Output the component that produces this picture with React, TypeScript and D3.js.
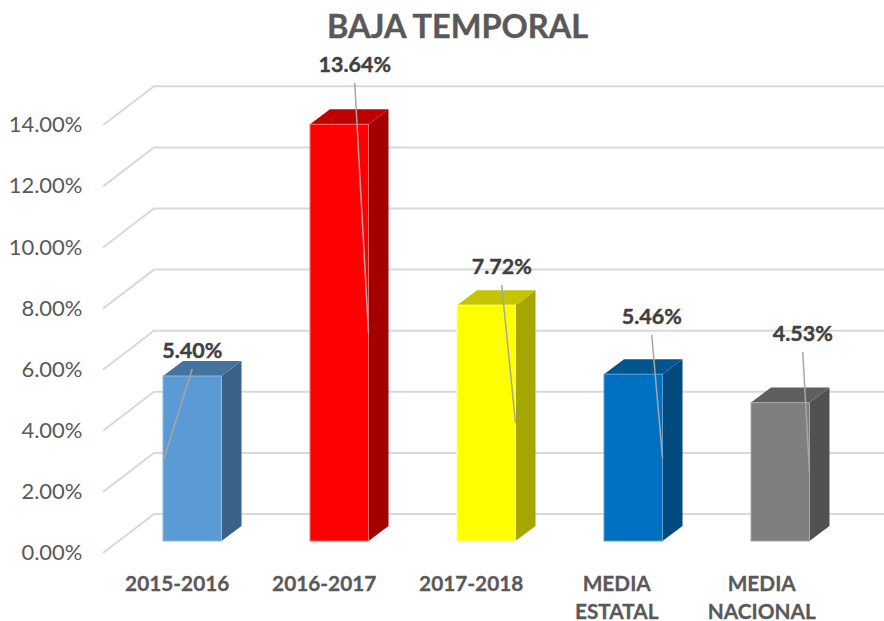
import React from "react";
import * as d3 from "d3";

const categories = ["2015-2016", "2016-2017", "2017-2018", "MEDIA|ESTATAL", "MEDIA|NACIONAL"];
const values = [5.4, 13.64, 7.72, 5.46, 4.53];
const tickValues = [0, 2, 4, 6, 8, 10, 12, 14];
const frontColors = ["#5B9BD5", "#FF0000", "#FFFF00", "#0070C0", "#7F7F7F"];
const topColors = ["#44739F", "#BF0000", "#C4C400", "#00558F", "#5F5F5F"];
const sideColors = ["#386287", "#A30000", "#A6A600", "#004A7F", "#515151"];
const edgeColors = ["#8DB9E2", "#FF6A6A", "#FFFF80", "#5A9FD6", "#A5A5A5"];
// label placement relative to the bar
const labelDx = [0, 15.5, 15.5, 18.5, 22.5];
const labelBaseline = [358, 72, 274, 324, 341];
const leaderFromRight = [false, true, true, true, true];
const categoryDx = [-15, -15, -15, -16.5, -18.5];

const font = "Lato, Carlito, Calibri, sans-serif";
const W = 884;
const H = 621;
const depthX = 20;
const depthY = 15;

export default function App() {
  const y = d3.scaleLinear().domain([0, 14]).range([541, 113.3]);
  const xs = d3.scalePoint<string>().domain(categories).range([163, 751]);
  const bw = 58.5;
  const gridLeft = 103;
  const gridMid = 154;
  return (
    <svg width={W} height={H} viewBox={`0 0 ${W} ${H}`} style={{ position: "absolute", left: 0, top: 0, background: "#fff", fontFamily: font }}>
      <text x={457.5} y={38} textAnchor="middle" fontSize={32.5} fontWeight={700} fill="#595959" stroke="#595959" strokeWidth={0.4}>BAJA TEMPORAL</text>
      {tickValues.map((t) => {
        const yf = y(t) + 12;
        const yb = y(t) - 27;
        return (
          <g key={t}>
            <polyline points={`${gridLeft},${yf} ${gridMid},${yb} ${W},${yb}`} fill="none" stroke="#D9D9D9" strokeWidth={2} />
            <text x={82.5} y={yf + 7} textAnchor="end" fontSize={22} fill="#595959">{t.toFixed(2)}%</text>
          </g>
        );
      })}
      {values.map((v, i) => {
        const x0 = xs(categories[i]) as number;
        const x1 = x0 + bw;
        const yt = y(v);
        const yb = y(0);
        return (
          <g key={categories[i]}>
            <path d={`M${x1},${yt} L${x1 + depthX},${yt - depthY} V${yb - depthY} L${x1},${yb} Z`} fill={sideColors[i]} />
            <path d={`M${x0},${yt} L${x0 + depthX},${yt - depthY} H${x1 + depthX} L${x1},${yt} Z`} fill={topColors[i]} />
            <rect x={x0} y={yt} width={bw} height={yb - yt} fill={frontColors[i]} stroke={edgeColors[i]} strokeWidth={1} />
          </g>
        );
      })}
      {values.map((v, i) => {
        const x0 = xs(categories[i]) as number;
        const cx = x0 + bw / 2 + labelDx[i];
        const base = labelBaseline[i];
        const ex = leaderFromRight[i] ? x0 + bw : x0 + 1;
        return (
          <g key={`l${i}`}>
            <line x1={cx} y1={base + 11} x2={ex} y2={y(v / 2)} stroke="#A6A6A6" strokeWidth={1.5} />
            <text x={cx} y={base} textAnchor="middle" fontSize={21.5} fontWeight={700} fill="#404040" stroke="#404040" strokeWidth={0.4}>{v.toFixed(2)}%</text>
          </g>
        );
      })}
      {categories.map((c, i) => {
        const lines = c.split("|");
        const cx = (xs(c) as number) + bw / 2 + categoryDx[i];
        return (
          <text key={c} textAnchor="middle" fontSize={20.8} fontWeight={700} fill="#595959" stroke="#595959" strokeWidth={0.3}>
            {lines.map((ln, j) => (
              <tspan key={ln} x={cx} y={591 + j * 28}>{ln}</tspan>
            ))}
          </text>
        );
      })}
    </svg>
  );
}
